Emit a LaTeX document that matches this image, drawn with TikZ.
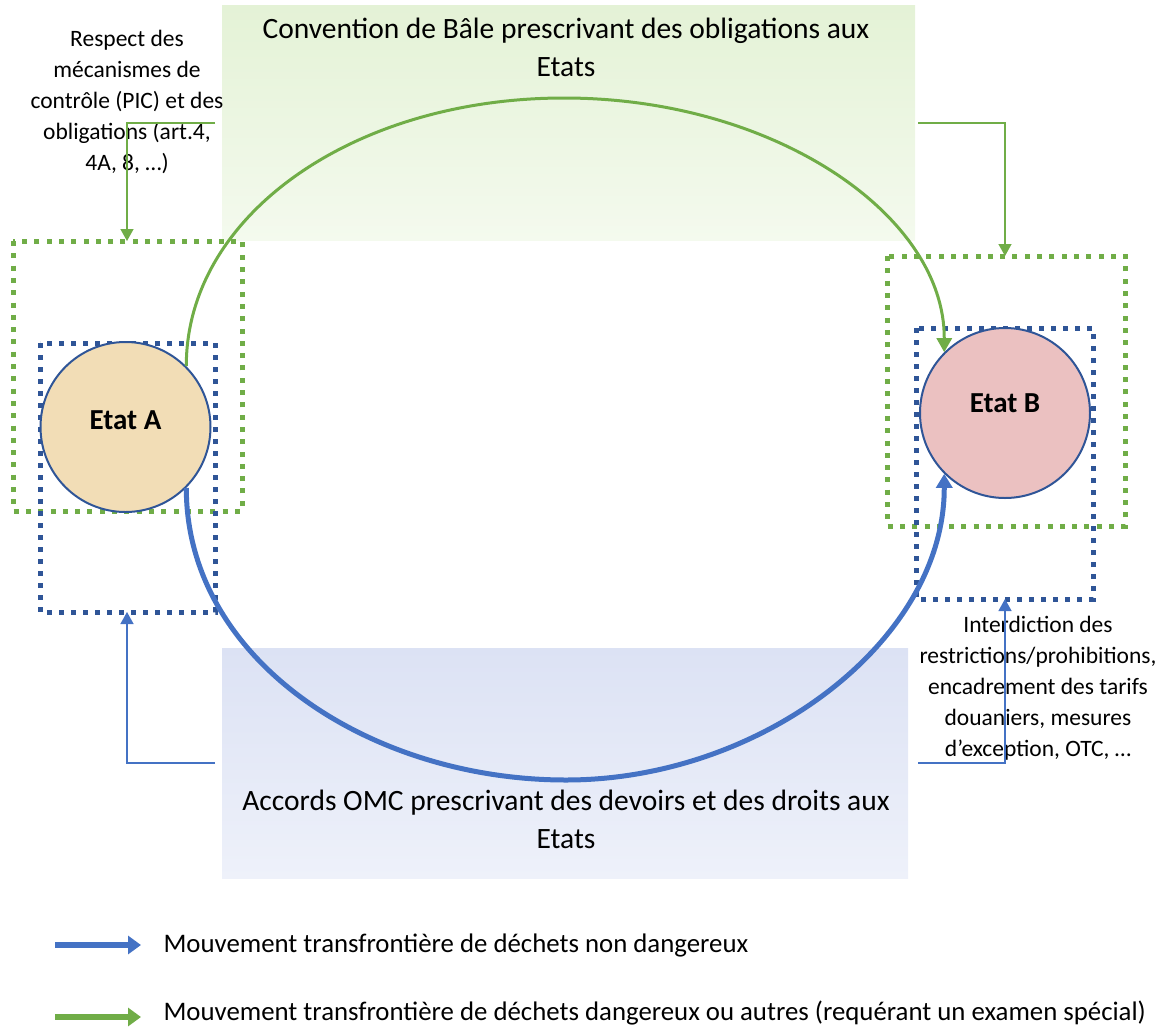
\documentclass[tikz,border=0pt]{standalone}
\usepackage{fontspec}
\setmainfont{Carlito}
\usetikzlibrary{arrows.meta}
\definecolor{cgreen}{HTML}{70AD47}
\definecolor{cblue}{HTML}{4472C4}
\definecolor{cdblue}{HTML}{2F5597}
\definecolor{gshadeA}{HTML}{E4F2D6}
\definecolor{gshadeB}{HTML}{F4FAEE}
\definecolor{bshadeA}{HTML}{DCE2F4}
\definecolor{bshadeB}{HTML}{EEF1FA}
\definecolor{tanfill}{HTML}{F2DDB6}
\definecolor{pinkfill}{HTML}{EBC1C1}
\tikzset{
  gdots/.style={draw=cgreen, line width=5pt, dash pattern=on 5pt off 7.3pt},
  bdots/.style={draw=cdblue, line width=5pt, dash pattern=on 5pt off 7pt},
  statecircle/.style={circle, draw=cdblue, line width=2pt, minimum size=170pt, inner sep=0pt},
  statelabel/.style={font=\bfseries\fontsize{29}{32}\selectfont},
  thingreen/.style={draw=cgreen, line width=1.4pt, -{Triangle[width=13pt,length=12pt]}},
  thinblue/.style={draw=cblue, line width=1.4pt, -{Triangle[width=13pt,length=12pt]}},
  greenmove/.style={draw=cgreen, line width=3pt, -{Triangle[width=15pt,length=14pt]}},
  bluemove/.style={draw=cblue, line width=5pt, -{Triangle[width=16pt,length=14pt]}},
  bigtext/.style={align=center, font=\fontsize{29.5}{38}\selectfont},
  smalltext/.style={align=center, font=\fontsize{23.5}{31}\selectfont},
  legendtext/.style={anchor=west, font=\fontsize{26.8}{30}\selectfont},
}
\begin{document}
\begin{tikzpicture}[x=1pt,y=-1pt]
\useasboundingbox (0,0) rectangle (1165,1026);
% shaded backgrounds
\shade[top color=gshadeA, bottom color=gshadeB] (222,5) rectangle (915,240);
\shade[top color=bshadeA, bottom color=bshadeB] (222,648) rectangle (908,878);
% titles
\node[bigtext] (bale) at (566,47) {Convention de Bâle prescrivant des obligations aux\\Etats};
\node[bigtext] (omc) at (566,819) {Accords OMC prescrivant des devoirs et des droits aux\\Etats};
% dotted frames
\draw[gdots] (13,241) rectangle (242,511);
\draw[bdots] (40,343) rectangle (215,612);
\draw[gdots] (887,256) rectangle (1125,526);
\draw[bdots] (916,328) rectangle (1093,599);
% states
\node[statecircle, fill=tanfill] (A) at (125.5,427) {};
\node[statecircle, fill=pinkfill] (B) at (1005,413) {};
\node[statelabel] (tA) at ([yshift=7pt]A.center) {Etat A};
\node[statelabel] (tB) at ([yshift=10pt]B.center) {Etat B};
% labels
\node[smalltext] (lblA) at (127,102) {Respect des\\mécanismes de\\contrôle (PIC) et des\\obligations (art.4,\\4A, 8, …)};
\node[smalltext] (lblB) at (1038,688) {Interdiction des\\restrictions/prohibitions,\\encadrement des tarifs\\douaniers, mesures\\d’exception, OTC, …};
% thin connectors
\coordinate (g1) at (215,123);
\coordinate (g2) at (918,123);
\coordinate (b1) at (215,763);
\coordinate (b2) at (918,763);
\draw[thingreen] (g1) -| (127,241);
\draw[thingreen] (g2) -| (1005,256);
\draw[thinblue] (b1) -| (127,612);
\draw[thinblue] (b2) -| (1005,599);
% movements
\coordinate (gtop) at (564,98);
\coordinate (bbot) at (566,780);
\draw[greenmove] (A.north east) .. controls (186,215) and (354,98) .. (gtop) .. controls (774,98) and (945,215) .. (B.north west);
\draw[bluemove] (A.south east) .. controls (186,660) and (370,780) .. (bbot) .. controls (762,780) and (945,640) .. (B.south west);
% legend
\coordinate (l1a) at (55,945);
\coordinate (l1b) at (141,945);
\coordinate (l2a) at (55,1017);
\coordinate (l2b) at (141,1017);
\draw[draw=cblue, line width=6pt, -{Triangle[width=18pt,length=13pt]}] (l1a) -- (l1b);
\draw[draw=cgreen, line width=6pt, -{Triangle[width=18pt,length=13pt]}] (l2a) -- (l2b);
\node[legendtext] (leg1) at (160,945) {Mouvement transfrontière de déchets non dangereux};
\node[legendtext] (leg2) at (160,1013) {Mouvement transfrontière de déchets dangereux ou autres (requérant un examen spécial)};
\end{tikzpicture}
\end{document}
